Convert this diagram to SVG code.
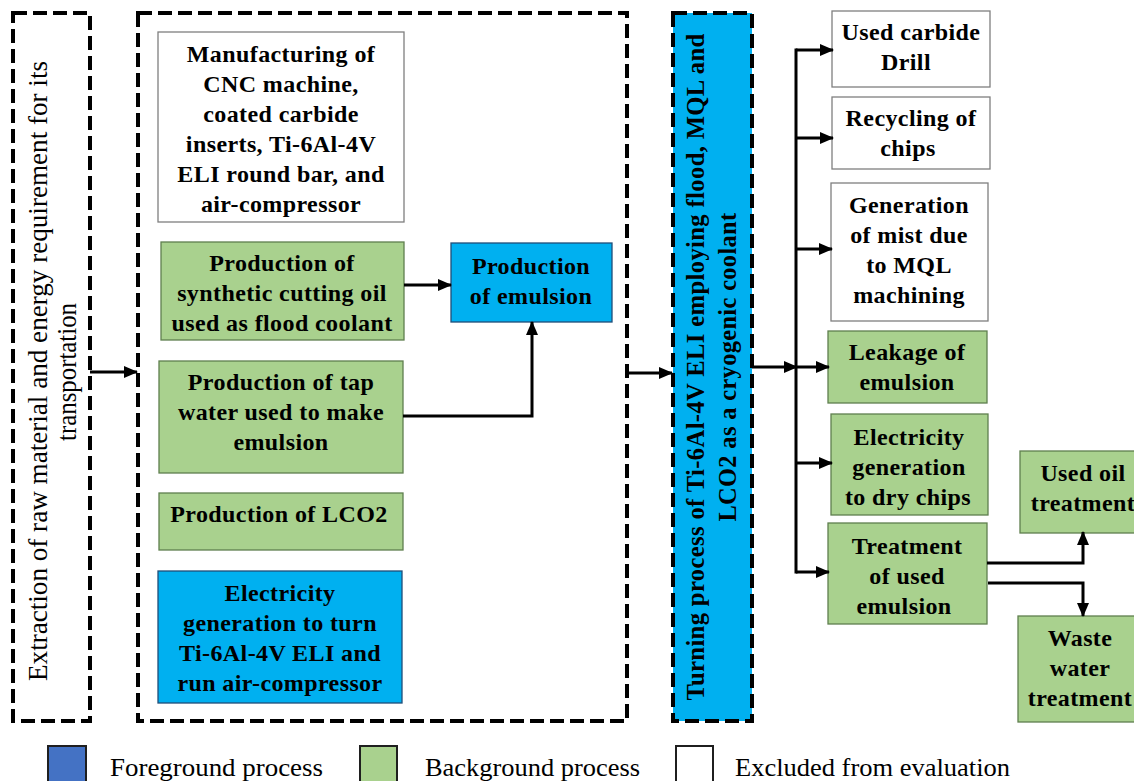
<svg xmlns="http://www.w3.org/2000/svg" width="1134" height="781" viewBox="0 0 1134 781">
<style>
.t{font-family:"Liberation Serif","Times New Roman",serif;font-weight:bold;font-size:24px;letter-spacing:0.4px;text-anchor:middle;fill:#000}
.r{font-family:"Liberation Serif","Times New Roman",serif;font-size:25px;fill:#000}
.dash{fill:none;stroke:#000;stroke-width:4;stroke-dasharray:14 6}
.g{fill:#a9d18e;stroke:#5f7f4f;stroke-width:1.3}
.b{fill:#00b0f0;stroke:#1f4e79;stroke-width:1.3}
.w{fill:#fff;stroke:#7f7f7f;stroke-width:1.3}
.c{fill:none;stroke:#000;stroke-width:3}
</style>
<defs>
<marker id="ah" markerUnits="userSpaceOnUse" markerWidth="14" markerHeight="12" refX="13" refY="6" orient="auto">
<path d="M0,0 L14,6 L0,12 z" fill="#000"/>
</marker>
</defs>
<rect width="1134" height="781" fill="#fff"/>

<g id="extraction">
<rect class="dash" x="13" y="13" width="77" height="708"/>
<text class="r" style="font-size:27px" transform="translate(47,371) rotate(-90)" text-anchor="middle" textLength="620" lengthAdjust="spacingAndGlyphs">Extraction of raw material and energy requirement for its</text>
<text class="r" style="font-size:27px" transform="translate(76,372) rotate(-90)" text-anchor="middle" textLength="138" lengthAdjust="spacingAndGlyphs">transportation</text>
</g>

<g id="upstream">
<rect class="dash" x="138" y="13" width="489" height="708"/>
</g>

<g id="manufacturing">
<rect class="w" x="158" y="32" width="246" height="190"/>
<text class="t" x="281" y="62">Manufacturing of</text>
<text class="t" x="281" y="92">CNC machine,</text>
<text class="t" x="281" y="122">coated carbide</text>
<text class="t" x="281" y="152">inserts, Ti-6Al-4V</text>
<text class="t" x="281" y="182">ELI round bar, and</text>
<text class="t" x="281" y="212">air-compressor</text>
</g>

<g id="cutting-oil">
<rect class="g" x="161" y="242" width="243" height="98"/>
<text class="t" x="282" y="271">Production of</text>
<text class="t" x="282" y="301">synthetic cutting oil</text>
<text class="t" x="282" y="331">used as flood coolant</text>
</g>

<g id="emulsion">
<rect class="b" x="451" y="243" width="161" height="79"/>
<text class="t" x="531" y="274">Production</text>
<text class="t" x="531" y="304">of emulsion</text>
</g>

<g id="tap-water">
<rect class="g" x="159" y="361" width="244" height="112"/>
<text class="t" x="281" y="390">Production of tap</text>
<text class="t" x="281" y="420">water used to make</text>
<text class="t" x="281" y="450">emulsion</text>
</g>

<g id="lco2">
<rect class="g" x="159" y="493" width="244" height="57"/>
<text class="t" x="279" y="522">Production of LCO2</text>
</g>

<g id="electricity-turn">
<rect class="b" x="158" y="571" width="244" height="132"/>
<text class="t" x="280" y="601">Electricity</text>
<text class="t" x="280" y="631">generation to turn</text>
<text class="t" x="280" y="661">Ti-6Al-4V ELI and</text>
<text class="t" x="280" y="691">run air-compressor</text>
</g>

<g id="turning">
<rect x="673" y="13" width="79" height="708" fill="#00b0f0"/>
<rect class="dash" x="673" y="13" width="79" height="708"/>
<text class="t" style="font-size:25px" transform="translate(704,367) rotate(-90)" textLength="667" lengthAdjust="spacingAndGlyphs">Turning process of Ti-6Al-4V ELI employing flood, MQL and</text>
<text class="t" style="font-size:25px" transform="translate(736,367) rotate(-90)" textLength="309" lengthAdjust="spacingAndGlyphs">LCO2 as a cryogenic coolant</text>
</g>

<g id="used-drill">
<rect class="w" x="832" y="11" width="158" height="76"/>
<text class="t" x="911" y="40">Used carbide</text>
<text class="t" x="906" y="70">Drill</text>
</g>

<g id="recycling">
<rect class="w" x="832" y="97" width="158" height="72"/>
<text class="t" x="911" y="126">Recycling of</text>
<text class="t" x="908" y="156">chips</text>
</g>

<g id="mist">
<rect class="w" x="831" y="183" width="157" height="138"/>
<text class="t" x="909" y="213">Generation</text>
<text class="t" x="909" y="243">of mist due</text>
<text class="t" x="909" y="273">to MQL</text>
<text class="t" x="909" y="303">machining</text>
</g>

<g id="leakage">
<rect class="g" x="828" y="331" width="159" height="72"/>
<text class="t" x="907" y="360">Leakage of</text>
<text class="t" x="907" y="390">emulsion</text>
</g>

<g id="electricity-dry">
<rect class="g" x="831" y="414" width="157" height="101"/>
<text class="t" x="909" y="445">Electricity</text>
<text class="t" x="909" y="475">generation</text>
<text class="t" x="908" y="505">to dry chips</text>
</g>

<g id="treatment">
<rect class="g" x="828" y="523" width="159" height="101"/>
<text class="t" x="907" y="554">Treatment</text>
<text class="t" x="907" y="584">of used</text>
<text class="t" x="904" y="614">emulsion</text>
</g>

<g id="used-oil">
<rect class="g" x="1020" y="451" width="130" height="82"/>
<text class="t" x="1083" y="481">Used oil</text>
<text class="t" x="1083" y="511">treatment</text>
</g>

<g id="waste-water">
<rect class="g" x="1018" y="616" width="132" height="106"/>
<text class="t" x="1080" y="646">Waste</text>
<text class="t" x="1080" y="676">water</text>
<text class="t" x="1080" y="706">treatment</text>
</g>

<g id="connectors">
<path class="c" d="M90,372 H137" marker-end="url(#ah)"/>
<path class="c" d="M404,285 H451" marker-end="url(#ah)"/>
<path class="c" d="M403,416 H532 V322" marker-end="url(#ah)"/>
<path class="c" d="M627,373 H672" marker-end="url(#ah)"/>
<path class="c" d="M752,367 H797" marker-end="url(#ah)"/>
<path class="c" d="M796,48.5 V573.5"/>
<path class="c" d="M796,50 H833" marker-end="url(#ah)"/>
<path class="c" d="M796,138 H833" marker-end="url(#ah)"/>
<path class="c" d="M796,249 H832" marker-end="url(#ah)"/>
<path class="c" d="M796,367 H829" marker-end="url(#ah)"/>
<path class="c" d="M796,463 H832" marker-end="url(#ah)"/>
<path class="c" d="M796,572 H829" marker-end="url(#ah)"/>
<path class="c" d="M987,563 H1083 V532" marker-end="url(#ah)"/>
<path class="c" d="M988,583 H1083 V616" marker-end="url(#ah)"/>
</g>

<g id="legend">
<rect x="48" y="746" width="38" height="40" fill="#4472c4" stroke="#1f1f1f" stroke-width="2"/>
<text class="r" x="110" y="776" textLength="213" lengthAdjust="spacingAndGlyphs">Foreground process</text>
<rect x="360" y="746" width="37" height="40" fill="#a9d18e" stroke="#1f1f1f" stroke-width="2"/>
<text class="r" x="425" y="776" textLength="215" lengthAdjust="spacingAndGlyphs">Background process</text>
<rect x="676" y="746" width="37" height="40" fill="#fff" stroke="#1f1f1f" stroke-width="2"/>
<text class="r" x="735" y="776" textLength="275" lengthAdjust="spacingAndGlyphs">Excluded from evaluation</text>
</g>
</svg>
